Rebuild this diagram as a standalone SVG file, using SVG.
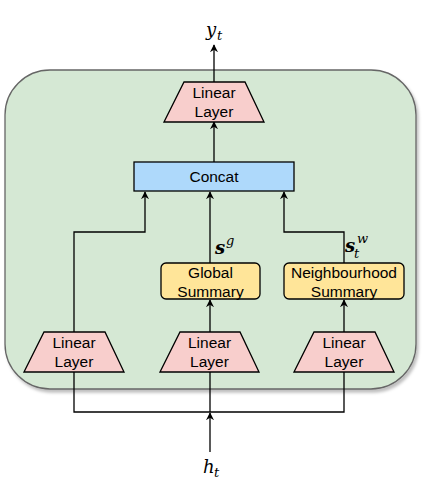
<svg xmlns="http://www.w3.org/2000/svg" width="423" height="494" viewBox="0 0 423 494">
<defs>
<marker id="arr" viewBox="0 0 10 10" refX="9" refY="5" markerWidth="8" markerHeight="8" markerUnits="userSpaceOnUse" orient="auto">
<path d="M0,0 L10,5 L0,10 L3,5 Z" fill="#000"/>
</marker>
<filter id="sh" x="-10%" y="-10%" width="120%" height="120%">
<feDropShadow dx="2" dy="3" stdDeviation="1.5" flood-color="#000" flood-opacity="0.25"/>
</filter>
<style>
.lin{fill:#f8cecc;stroke:#000;stroke-width:1.3}
.sum{fill:#ffe599;stroke:#000;stroke-width:1.3}
.cat{fill:#aed9fb;stroke:#000;stroke-width:1.3}
.t{font-family:"Liberation Sans",Arial,sans-serif;font-size:15.5px;fill:#000;text-anchor:middle}
.m{font-family:"DejaVu Serif","Liberation Serif",serif;font-style:italic;fill:#000}
.c{fill:none;stroke:#000;stroke-width:1.3}
.ca{fill:none;stroke:#000;stroke-width:1.3;marker-end:url(#arr)}
</style>
</defs>
<g id="container">
<rect x="5" y="70" width="411" height="319" rx="45" ry="45" fill="#d5e8d4" stroke="#666" stroke-width="1.3" filter="url(#sh)"/>
</g>
<g id="connectors">
<line class="ca" x1="214" y1="82" x2="214" y2="45"/>
<line class="ca" x1="214" y1="162" x2="214" y2="122"/>
<polyline class="ca" points="74,332 74,232 145,232 145,192"/>
<line class="ca" x1="210" y1="263" x2="210" y2="192"/>
<polyline class="ca" points="344,263 344,232 284,232 284,192"/>
<line class="ca" x1="210" y1="332" x2="210" y2="300"/>
<line class="ca" x1="344" y1="332" x2="344" y2="300"/>
<polyline class="c" points="74,372 74,412 344,412 344,372"/>
<line class="c" x1="210" y1="372" x2="210" y2="412"/>
<line class="ca" x1="210" y1="452" x2="210" y2="413"/>
</g>
<g id="linear-top">
<polygon class="lin" points="164,122 184,82 245,82 264,122"/>
<text class="t" x="214" y="97.5">Linear</text>
<text class="t" x="214" y="117">Layer</text>
</g>
<g id="concat">
<rect class="cat" x="134" y="162" width="160" height="29"/>
<text class="t" x="214" y="182">Concat</text>
</g>
<g id="global-summary">
<rect class="sum" x="161" y="263" width="99" height="36" rx="5" ry="5"/>
<text class="t" x="210.5" y="277.5">Global</text>
<text class="t" x="210.5" y="296.5">Summary</text>
</g>
<g id="neighbourhood-summary">
<rect class="sum" x="284" y="263" width="120" height="36" rx="5" ry="5"/>
<text class="t" x="344" y="277.5">Neighbourhood</text>
<text class="t" x="344" y="296.5">Summary</text>
</g>
<g id="linear-left">
<polygon class="lin" points="24,372 44,332 105,332 124,372"/>
<text class="t" x="74" y="347.5">Linear</text>
<text class="t" x="74" y="367">Layer</text>
</g>
<g id="linear-mid">
<polygon class="lin" points="160,372 180,332 240,332 259,372"/>
<text class="t" x="209.5" y="347.5">Linear</text>
<text class="t" x="209.5" y="367">Layer</text>
</g>
<g id="linear-right">
<polygon class="lin" points="294,372 314,332 375,332 394,372"/>
<text class="t" x="344" y="347.5">Linear</text>
<text class="t" x="344" y="367">Layer</text>
</g>
<g id="labels">
<text class="m" x="206" y="36" font-size="18">y</text>
<text class="m" x="217" y="40" font-size="13">t</text>
<text class="m" x="215" y="254" font-size="18" font-weight="bold">s</text>
<text class="m" x="226" y="245" font-size="13">g</text>
<text class="m" x="345" y="252" font-size="18" font-weight="bold">s</text>
<text class="m" x="357" y="243" font-size="13">w</text>
<text class="m" x="354" y="258" font-size="13">t</text>
<text class="m" x="203" y="473" font-size="18">h</text>
<text class="m" x="214" y="477" font-size="13">t</text>
</g>
</svg>
